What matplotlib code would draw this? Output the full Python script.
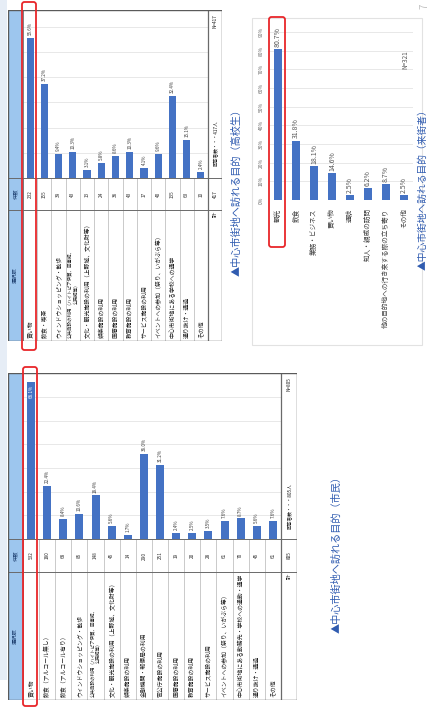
import matplotlib
matplotlib.use('Agg')
import matplotlib.pyplot as plt
from matplotlib.patches import Rectangle, FancyBboxPatch

plt.rcParams['font.family'] = ['Noto Sans CJK JP', 'DejaVu Sans']

W, H = 430, 708

# ---------------- data ----------------
hs_labels = ['買い物', '飲食・喫茶', 'ウィンドウショッピング・散歩',
             '公共施設の利用（ハイトピア伊賀、図書館、\n公民館等）',
             '文化・観光施設の利用（上野城、文化財等）', '娯楽施設の利用',
             '医療施設の利用', '教育施設の利用', 'サービス施設の利用',
             'イベントへの参加（祭り、いがぶら等）',
             '中心市街地にある学校への通学', '通り抜け・通過', 'その他']
hs_counts = [232, 155, 39, 43, 13, 24, 36, 43, 17, 40, 135, 63, 10]
hs_pct = [55.6, 37.2, 9.4, 10.3, 3.1, 5.8, 8.6, 10.3, 4.1, 9.6, 32.4, 15.1, 2.4]
hs_total = 417

cz_labels = ['買い物', '飲食（アルコール無し）', '飲食（アルコール有り）',
             'ウィンドウショッピング・散歩',
             '公共施設の利用（ハイトピア伊賀、図書館、\n公民館等）',
             '文化・観光施設の利用（上野城、文化財等）', '娯楽施設の利用',
             '金融機関・郵便局の利用', '官公庁施設の利用', '医療施設の利用',
             '教育施設の利用', 'サービス施設の利用',
             'イベントへの参加（祭り、いがぶら等）',
             '中心市街地にある勤務先・学校への通勤・通学',
             '通り抜け・通過', 'その他']
cz_counts = [532, 180, 68, 85, 148, 45, 14, 290, 251, 19, 20, 28, 61, 70, 45, 61]
cz_pct = [66.1, 22.4, 8.4, 10.6, 18.4, 5.6, 1.7, 36.0, 31.2, 2.4, 2.5, 3.5, 7.6, 8.7, 5.6, 7.6]
cz_total = 805

vis_labels = ['観光', '飲食', '業務・ビジネス', '買い物', '通院',
              '知人・親戚の訪問', '他の目的地への行き来する際の立ち寄り', 'その他']
vis_pct = [80.7, 31.8, 18.1, 14.6, 2.5, 6.2, 8.7, 2.5]
vis_n = 321
vis_ticks = [0, 10, 20, 30, 40, 50, 60, 70, 80, 90]

title_hs = '▲中心市街地へ訪れる目的（高校生）'
title_cz = '▲中心市街地へ訪れる目的（市民）'
title_vis = '▲中心市街地へ訪れる目的（来街者）'

BAR = '#4472c4'
TITLE_C = '#2f5bb0'

fig = plt.figure(figsize=(W / 100, H / 100), dpi=100)


def rect(x0, y0, x1, y1):
    return [x0 / W, 1 - y1 / H, (x1 - x0) / W, (y1 - y0) / H]


bg = fig.add_axes([0, 0, 1, 1], zorder=0)
bg.set_xlim(0, W)
bg.set_ylim(H, 0)
bg.axis('off')
bg.add_patch(Rectangle((0, 0), 7, 680, color='#e6edf6', lw=0))


def draw_table(x0, x1, top, base, cnt_y, bottom, hw, tw, labels, counts, pct,
               total, scale, fs):
    n = len(labels)
    rw = (x1 - x0 - hw - tw) / n
    ax = fig.add_axes(rect(x0, top, x1, bottom), zorder=2)
    xl = (-0.5 - hw / rw, n - 0.5 + tw / rw)
    ymax = (base - top) / scale
    ymin = -(bottom - base) / scale
    yc = -(cnt_y - base) / scale
    ax.set_xlim(xl)
    ax.set_ylim(ymin, ymax)
    ax.axis('off')
    ax.add_patch(Rectangle((xl[0], ymin), -0.5 - xl[0], ymax - ymin,
                           fc='#9dc6ee', ec='none', zorder=1))
    for g in range(10, 80, 10):
        if g < ymax - 1:
            ax.plot([-0.5, n - 0.5], [g, g], color='#dedede', lw=0.5, zorder=1)
    for i in range(n + 1):
        ax.plot([i - 0.5, i - 0.5], [ymin, 0], color='#b5b5b5', lw=0.5, zorder=1)
    ax.plot(xl, [0, 0], color='#6a6a6a', lw=0.7, zorder=4)
    ax.plot(xl, [yc, yc], color='#6a6a6a', lw=0.7, zorder=4)
    ax.plot([-0.5, -0.5], [ymin, ymax], color='#6a6a6a', lw=0.6, zorder=4)
    ax.plot([n - 0.5, n - 0.5], [ymin, ymax], color='#6a6a6a', lw=0.9, zorder=4)
    ax.add_patch(Rectangle((xl[0], ymin), xl[1] - xl[0], ymax - ymin,
                           fill=False, ec='#5a5a5a', lw=1.0, zorder=5))
    xs = list(range(n))
    ax.bar(xs, pct, width=0.5, color=BAR, zorder=3)
    for i, v in enumerate(pct):
        if v > ymax - 8:
            ax.text(i, v - 1, f'{v:.1f}%', rotation=90, ha='center', va='top',
                    fontsize=3.3, color='white', zorder=6)
        else:
            ax.text(i, v + 1.2, f'{v:.1f}%', rotation=90, ha='center',
                    va='bottom', fontsize=3.3, color='#404040', zorder=6)
        ax.text(i, yc / 2, str(counts[i]), rotation=90, ha='center',
                va='center', fontsize=3.4, color='#303030', zorder=6)
        lab = labels[i]
        f = fs * 0.78 if '\n' in lab else fs
        ax.text(i, ymin + 3 / scale, lab, rotation=90, ha='center',
                va='bottom', fontsize=f, color='#202020', linespacing=1.1,
                zorder=6)
    hx = (xl[0] - 0.5) / 2
    ax.text(hx, yc / 2, '件数', rotation=90, ha='center', va='center',
            fontsize=3.8, color='#1c3d6e', zorder=6)
    ax.text(hx, (ymin + yc) / 2, '選択肢', rotation=90, ha='center',
            va='center', fontsize=3.8, color='#1c3d6e', zorder=6)
    tx = (n - 0.5 + xl[1]) / 2
    ax.text(tx, yc - 2 / scale, '計', rotation=90, ha='center', va='top',
            fontsize=3.8, color='#202020', zorder=6)
    ax.text(tx, yc / 2, str(total), rotation=90, ha='center', va='center',
            fontsize=3.4, color='#202020', zorder=6)
    ax.text(tx, 14, f'回答者数・・・{total}人', rotation=90, ha='center',
            va='center', fontsize=3.4, color='#202020', zorder=6)
    ax.text(tx, ymax - 4 / scale, f'N={total}', rotation=90, ha='center',
            va='top', fontsize=3.4, color='#202020', zorder=6)
    return ax


draw_table(8, 222, 10, 178, 210, 341, 15, 14, hs_labels, hs_counts, hs_pct,
           hs_total, 2.52, 4.2)
draw_table(8, 297, 373, 539, 572, 700, 15, 16, cz_labels, cz_counts, cz_pct,
           cz_total, 2.37, 4.2)

# ---------------- right chart ----------------
bg.add_patch(Rectangle((252, 18), 170, 327, fill=False, ec='#e2e2e2', lw=0.8))
ax3 = fig.add_axes(rect(269, 22, 413, 200), zorder=2)
ax3.patch.set_alpha(0)
ax3.set_xlim(-0.5, len(vis_pct) - 0.5)
ax3.set_ylim(0, 178 / 1.867)
ax3.bar(range(len(vis_pct)), vis_pct, width=0.42, color=BAR, zorder=3)
ax3.set_yticks(vis_ticks)
ax3.set_yticklabels([f'{t}%' for t in vis_ticks], rotation=90, va='center',
                    fontsize=3.5, color='#666666')
ax3.set_xticks(range(len(vis_labels)))
ax3.set_xticklabels(vis_labels, rotation=90, fontsize=4.8, color='#404040')
ax3.tick_params(length=0, pad=4)
ax3.tick_params(axis='x', pad=6)
ax3.yaxis.grid(True, color='#e4e4e4', lw=0.6)
ax3.set_axisbelow(True)
for s in ax3.spines.values():
    s.set_visible(False)
for i, v in enumerate(vis_pct):
    ax3.text(i, v + 1.2, f'{v:.1f}%', rotation=90, ha='center', va='bottom',
             fontsize=5, color='#555555')
ax3.text(7.1, 75, f'N={vis_n}', rotation=90, ha='center', va='center',
         fontsize=4.6, color='#555555')

# ---------------- foreground: titles, red boxes ----------------
fg = fig.add_axes([0, 0, 1, 1], zorder=10)
fg.patch.set_alpha(0)
fg.set_xlim(0, W)
fg.set_ylim(H, 0)
fg.axis('off')
fg.text(237, 190, title_hs, rotation=90, ha='center', va='center',
        fontsize=7.3, color=TITLE_C)
fg.text(337, 552, title_cz, rotation=90, ha='center', va='center',
        fontsize=7.3, color=TITLE_C)
fg.text(423, 187, title_vis, rotation=90, ha='center', va='center',
        fontsize=7.0, color=TITLE_C)
fg.text(424, 6, '7', rotation=90, ha='center', va='center', fontsize=7,
        color='#c0c0c0')

for (x0, y0, x1, y1) in [(22, 2, 36, 350), (23, 367, 37, 706), (269, 17, 285, 247)]:
    fg.add_patch(FancyBboxPatch((x0, y0), x1 - x0, y1 - y0,
                                boxstyle='round,pad=0,rounding_size=2.5',
                                fill=False, ec='#e8262a', lw=1.3))

fig.savefig('out.png', dpi=100)
